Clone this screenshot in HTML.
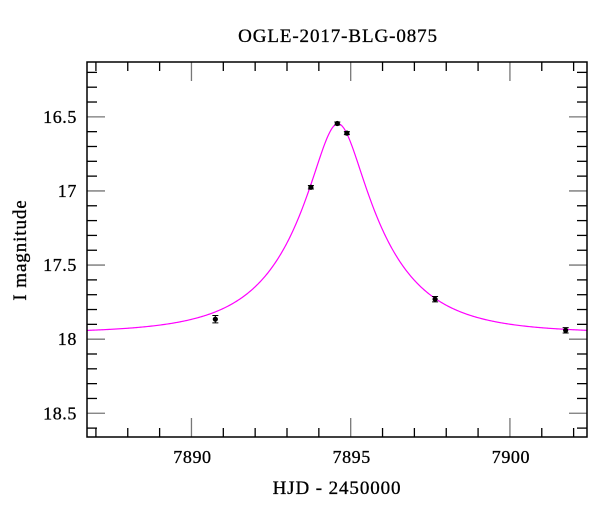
<!DOCTYPE html>
<html><head><meta charset="utf-8"><style>
html,body{margin:0;padding:0;background:#fff;}
svg text{font-family:"Liberation Serif",serif;fill:#000;stroke:#000;stroke-width:0.3;}
</style></head><body>
<svg id="chart" width="600" height="512" xmlns="http://www.w3.org/2000/svg">
<text x="338" y="42" font-size="19" letter-spacing="0.9" text-anchor="middle">OGLE-2017-BLG-0875</text>
<text x="337" y="494" font-size="19" letter-spacing="0.9" text-anchor="middle">HJD - 2450000</text>
<text transform="translate(26,250) rotate(-90)" font-size="19" letter-spacing="0.9" text-anchor="middle">I magnitude</text>
<g id="plot"></g>
</svg>
<script>
const obsTime = [7890.75, 7893.75, 7894.58, 7894.88, 7897.65, 7901.75];
const obsMag = [17.865, 16.975, 16.545, 16.61, 17.73, 17.94];
const obsErr = [0.025, 0.012, 0.01, 0.01, 0.018, 0.018];
const modelT0 = [7894.6];
const modelU0 = [0.28];
const modelTE = [2.68];
const modelBase = [17.96];
const xTickLabels = ["7890", "7895", "7900"];
const yTickLabels = ["16.5", "17", "17.5", "18", "18.5"];

const L=87,R=587,T=62,B=437;
const xMin=7886.72,xMax=7902.42,yMin=16.13,yMax=18.66;
const sx=v=>L+(v-xMin)/(xMax-xMin)*(R-L);
const sy=v=>T+(v-yMin)/(yMax-yMin)*(B-T);
const ns="http://www.w3.org/2000/svg";
const g=document.getElementById('plot');
function mk(tag,attrs,parent){const e=document.createElementNS(ns,tag);for(const k in attrs)e.setAttribute(k,attrs[k]);(parent||g).appendChild(e);return e;}

for(let d=Math.ceil(xMin);d<=xMax;d++){
  const x=sx(d);const major=d%5===0;const len=major?19:9;const col=major?'#777':'#000';
  let t=mk('line',{x1:x,x2:x,y1:B,y2:B-len,stroke:col,'stroke-width':1.3});
  
  t=mk('line',{x1:x,x2:x,y1:T,y2:T+len,stroke:col,'stroke-width':1.3});
  
}
xTickLabels.forEach(s=>{
  const t=mk('text',{x:sx(parseFloat(s))+1,y:463,'font-size':18,'letter-spacing':0.6,'text-anchor':'middle'});t.textContent=s;
  
});
for(let i=Math.ceil(yMin*10);i<=yMax*10;i++){
  const y=sy(i/10);const major=i%5===0;const len=major?18:10;const col=major?'#777':'#000';
  let t=mk('line',{x1:L,x2:L+len,y1:y,y2:y,stroke:col,'stroke-width':1.3});
  
  t=mk('line',{x1:R,x2:R-len,y1:y,y2:y,stroke:col,'stroke-width':1.3});
  
}
yTickLabels.forEach(s=>{
  const t=mk('text',{x:77,y:sy(parseFloat(s))+6,'font-size':18,'letter-spacing':0.6,'text-anchor':'end'});t.textContent=s;
  
});

let pts=[];
for(let i=0;i<=500;i++){
  const t=xMin+(xMax-xMin)*i/500;
  const u=Math.sqrt(modelU0[0]**2+((t-modelT0[0])/modelTE[0])**2);
  const A=(u*u+2)/(u*Math.sqrt(u*u+4));
  pts.push(sx(t).toFixed(2)+','+sy(modelBase[0]-2.5*Math.log10(A)).toFixed(2));
}
const curve=mk('polyline',{points:pts.join(' '),fill:'none',stroke:'#ff00ff','stroke-width':1.2});



obsTime.forEach((t,i)=>{
  const x=sx(t),y=sy(obsMag[i]),y1=sy(obsMag[i]-obsErr[i]),y2=sy(obsMag[i]+obsErr[i]);
  const eb=mk('path',{d:`M${x},${y1}V${y2}M${x-3},${y1}H${x+3}M${x-3},${y2}H${x+3}`,stroke:'#000','stroke-width':1,fill:'none'});
  
  const c=mk('circle',{cx:x,cy:y,r:2.6,fill:'#000'});
  
});

const fr=mk('rect',{x:L,y:T,width:R-L,height:B-T,fill:'none',stroke:'#000','stroke-width':1.5});


</script>
</body></html>
